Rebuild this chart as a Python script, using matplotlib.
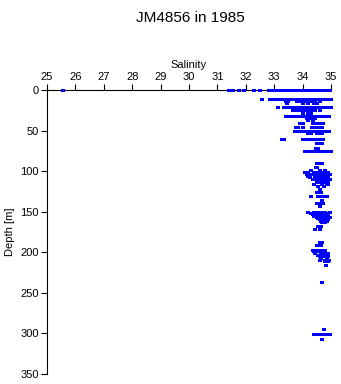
import numpy as np
import matplotlib
matplotlib.use("Agg")
import matplotlib.pyplot as plt

plt.rcParams['font.family'] = ['Liberation Sans', 'DejaVu Sans']

# bottle samples, grouped by sampling depth (m)
depth_levels = [0, 11, 14, 16, 21, 25, 28, 32, 34, 37, 41, 46, 51, 53, 60, 65, 71, 75,
                90, 95, 99, 101, 103, 104, 106, 107, 109, 110, 112, 113, 116, 118,
                122, 126, 131, 136, 139, 143,
                150, 152, 153, 155, 156, 158, 159, 161, 163, 168, 171, 187, 191,
                197, 199, 201, 203, 205, 207, 209, 211, 216,
                237, 295, 301, 307]

salinity_at_level = [
    [25.57, 31.41, 31.55, 31.77, 31.94, 32.29, 32.5, 32.8, 32.9, 33.0, 33.1, 33.2, 33.3,
     33.4, 33.5, 33.6, 33.7, 33.8, 33.9, 34.0, 34.1, 34.2, 34.3, 34.4, 34.5, 34.6, 34.7,
     34.8, 34.9, 34.95],
    [32.57, 32.85, 32.95, 33.05, 33.15, 33.25, 33.35, 33.45, 33.55, 33.65, 33.75, 33.85,
     33.95, 34.05, 34.15, 34.25, 34.35, 34.45, 34.55, 34.65, 34.75, 34.85, 34.95, 35.0],
    [33.4, 33.45, 33.5, 33.8, 33.9, 34.0, 34.15, 34.3, 34.45, 34.6],
    [33.45, 34.0, 34.2, 34.4, 34.5],
    [33.13, 33.35, 33.5, 33.6, 33.7, 33.8, 33.9, 34.0, 34.1, 34.2, 34.3, 34.4, 34.5,
     34.6, 34.7, 34.8, 34.9, 35.0],
    [33.66, 33.8, 33.95, 34.1, 34.2, 34.3, 34.45, 34.6],
    [34.0, 34.2, 34.3],
    [33.4, 33.5, 33.6, 33.7, 33.8, 33.9, 34.0, 34.1, 34.2, 34.3, 34.4, 34.5, 34.6, 34.7,
     34.8, 34.9, 34.93],
    [34.15, 34.25, 34.3, 34.45],
    [34.2, 34.35],
    [33.91, 34.0, 34.37, 34.45, 34.55, 34.65, 34.72],
    [33.77, 33.85, 34.0, 34.33, 34.37, 34.42, 34.5, 34.6, 34.7],
    [33.73, 33.8, 33.9, 34.0, 34.1, 34.2, 34.3, 34.4, 34.5, 34.6, 34.7, 34.8, 34.9, 34.93],
    [34.19, 34.3, 34.5, 34.6, 34.68],
    [33.27, 33.31, 33.35, 34.0, 34.1, 34.2, 34.25, 34.37, 34.45, 34.55, 34.65, 34.72],
    [34.5, 34.6, 34.7],
    [34.47, 34.55],
    [34.08, 34.15, 34.25, 34.35, 34.45, 34.55, 34.65, 34.75, 34.85, 34.95, 35.0],
    [34.5, 34.6, 34.68],
    [34.47, 34.52],
    [34.3, 34.6, 34.8],
    [34.1, 34.2, 34.4, 34.5, 34.55, 34.6, 34.65, 34.7, 34.8, 34.9],
    [34.35, 34.65, 34.9],
    [34.15, 34.3, 34.45, 34.5, 34.6, 34.7, 34.75, 34.85, 34.95],
    [34.2, 34.6, 34.85],
    [34.25, 34.45, 34.55, 34.62, 34.7, 34.8, 34.9],
    [34.45, 34.65, 34.85],
    [34.35, 34.5, 34.6, 34.7, 34.75, 34.95],
    [34.5, 34.7, 34.9],
    [34.55, 34.65, 34.8],
    [34.4, 34.7, 34.85, 34.9],
    [34.55, 34.75],
    [34.6],
    [34.5, 34.55, 34.65],
    [34.3, 34.55, 34.6, 34.7, 34.8, 34.86],
    [34.68],
    [34.5, 34.6, 34.72],
    [34.6],
    [34.2, 34.4, 34.5, 34.6, 34.7, 34.8, 34.95],
    [34.3, 34.5, 34.7, 34.85],
    [34.35, 34.45, 34.55, 34.65, 34.75, 34.9],
    [34.4, 34.55, 34.8],
    [34.5, 34.6, 34.7, 34.85, 34.95],
    [34.55, 34.7, 34.85],
    [34.6, 34.75, 34.9],
    [34.65, 34.85],
    [34.7, 34.8],
    [34.55, 34.65],
    [34.45, 34.6],
    [34.6, 34.7],
    [34.5, 34.65],
    [34.35, 34.5, 34.6, 34.7, 34.8],
    [34.4, 34.55, 34.75],
    [34.45, 34.65, 34.8, 34.9],
    [34.55, 34.7, 34.85],
    [34.6, 34.75, 34.9],
    [34.65, 34.85],
    [34.6, 34.8, 34.92],
    [34.8, 34.9],
    [34.82],
    [34.68],
    [34.75],
    [34.4, 34.5, 34.6, 34.7, 34.8, 34.9, 34.95],
    [34.68],
]

sal_ticks = [25, 26, 27, 28, 29, 30, 31, 32, 33, 34, 35]
depth_ticks = [0, 50, 100, 150, 200, 250, 300, 350]

salinity = np.concatenate([np.array(s) for s in salinity_at_level])
depth = np.concatenate([np.full(len(s), d, dtype=float)
                        for d, s in zip(depth_levels, salinity_at_level)])

fig = plt.figure(figsize=(3.41, 3.84), dpi=100)
ax = fig.add_axes([0.1378, 0.026, 0.8329, 0.7396])

# slightly wide block marker so closely spaced samples join into bars
block = [(-1.0, -0.8), (1.0, -0.8), (1.0, 0.8), (-1.0, 0.8), (-1.0, -0.8)]
ax.plot(salinity, depth, linestyle='none', marker=block, color='#0000ff',
        markersize=2.7, markeredgewidth=0, antialiased=False,
        zorder=5, clip_on=False)

ax.set_xlim(25, 35)
ax.set_ylim(350, 0)
ax.set_xticks(sal_ticks)
ax.set_yticks(depth_ticks)
ax.xaxis.tick_top()
ax.xaxis.set_label_position('top')
ax.set_xlabel('Salinity', fontsize=8, labelpad=3)
ax.set_ylabel('Depth [m]', fontsize=8, labelpad=4)
ax.tick_params(direction='out', length=4, width=0.8, labelsize=8, pad=2)

ax.spines['right'].set_visible(False)
ax.spines['bottom'].set_visible(False)
for s in ('top', 'left'):
    ax.spines[s].set_linewidth(0.8)

fig.text(0.557, 0.972, 'JM4856 in 1985', ha='center', va='top', fontsize=11)

fig.savefig('out.png', dpi=100)
